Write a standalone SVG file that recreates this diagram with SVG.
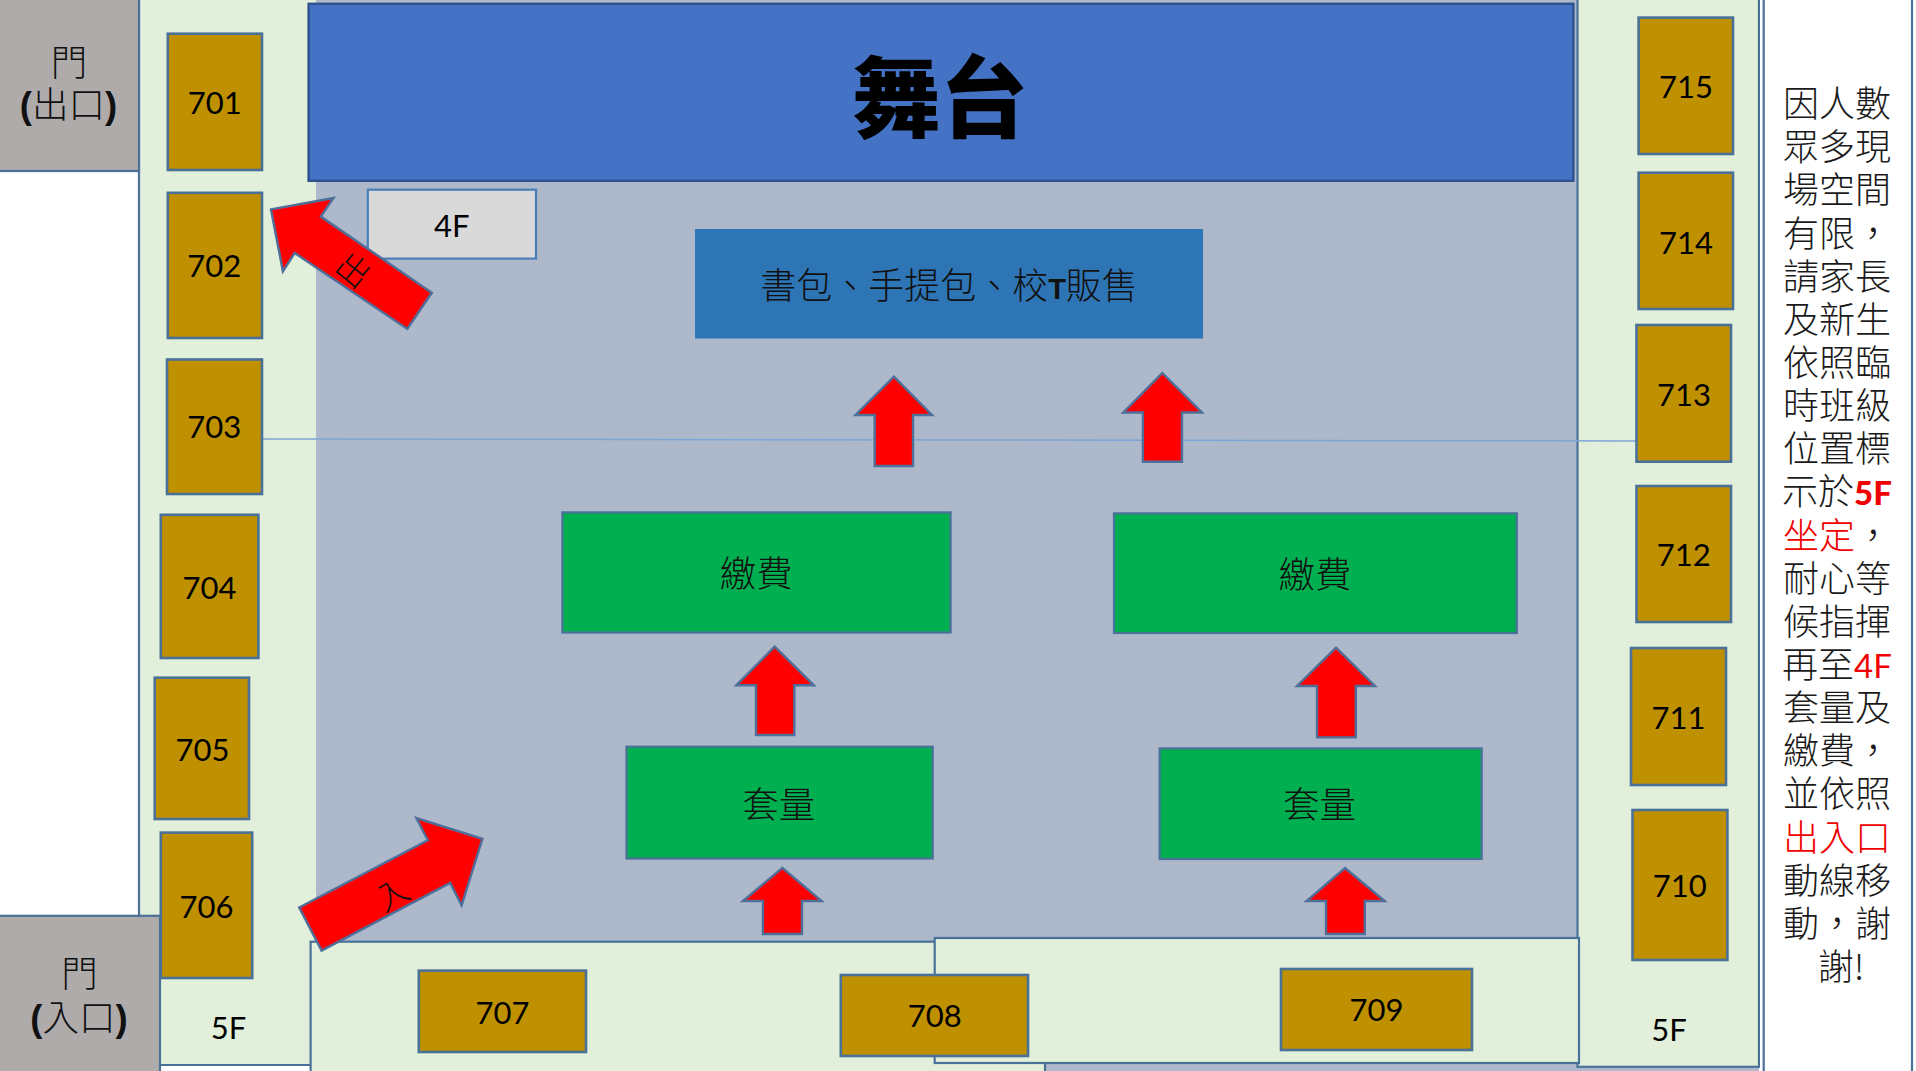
<svg xmlns="http://www.w3.org/2000/svg" width="1916" height="1071" viewBox="0 0 1916 1071" lang="zh-TW">
<style>
text{font-family:"Noto Sans CJK TC","Noto Sans",sans-serif;text-anchor:middle;fill:#111;font-weight:300}
.num{font-family:Lato,"Noto Sans",sans-serif;font-size:31px;font-weight:400;fill:#000}
.cjk{font-size:36.500px}
.side{font-size:36px;fill:#1a1a1a}
.red{fill:#f00000}
.lat{font-family:Lato,sans-serif;font-weight:400}
.par{font-family:"Liberation Sans",sans-serif;font-weight:700}
.b{stroke:#4a7198;stroke-width:2.200}
.room{fill:#bf9000;stroke:#4a7198;stroke-width:2.600}
.green{fill:#00b050;stroke:#4a7198;stroke-width:2.200}
.strip{fill:#e2efda;stroke:#4a7198;stroke-width:2.200}
.door{fill:#afabab;stroke:#4a7198;stroke-width:2.200}
.arrow{fill:#ff0000;stroke:#4f6f9b;stroke-width:2.400;stroke-linejoin:miter}
</style>
<rect width="1916" height="1071" fill="#fff"/>
<g id="floor">
<rect x="316" y="0" width="1443" height="1071" fill="#adb9ca"/>
<rect id="left-strip" x="139" y="-4" width="177" height="1069" fill="#e2efda"/>
<path d="M139 0V1065H320" fill="none" class="b"/>
<rect id="right-strip" class="strip" x="1577.500" y="-4" width="181.500" height="1070.800"/>
<rect x="1760.200" y="0" width="156" height="1071" fill="#fff"/>
<path d="M1763.700 0V1071M1912 0V1071" fill="none" class="b"/>
</g>
<g id="connectors">
<path d="M262 439L1636.500 441" fill="none" stroke="#7ba6d6" stroke-width="1.500"/>
</g>
<g id="door-exit"><rect class="door" x="-4" y="-4" width="143" height="175"/><text class="cjk"><tspan x="69" y="76">門</tspan><tspan x="68.500" y="118"><tspan class="par">(</tspan>出口<tspan class="par">)</tspan></tspan></text></g>
<g id="stage"><rect x="308.600" y="3.800" width="1264.800" height="177" fill="#4472c4" stroke="#2f528f" stroke-width="2.400"/><text x="940" y="130" style="font-size:88px;font-weight:900;fill:#000">舞台</text></g>
<g id="room-701"><rect class="room" x="167.800" y="33.700" width="94.200" height="136.300"/><text class="num" x="214.700" y="113.800">701</text></g>
<g id="room-702"><rect class="room" x="167.800" y="192.800" width="94.200" height="145.200"/><text class="num" x="214.300" y="277.200">702</text></g>
<g id="room-703"><rect class="room" x="167" y="359.500" width="95" height="134.500"/><text class="num" x="214.300" y="438.200">703</text></g>
<g id="room-704"><rect class="room" x="160.800" y="514.800" width="97.600" height="143.200"/><text class="num" x="209.400" y="598.800">704</text></g>
<g id="room-705"><rect class="room" x="154.700" y="677.700" width="94.300" height="141.300"/><text class="num" x="202.400" y="760.700">705</text></g>
<g id="room-706"><rect class="room" x="160.800" y="832.600" width="91.400" height="145.400"/><text class="num" x="206.500" y="917.700">706</text></g>
<g id="door-entry"><rect class="door" x="-4" y="915.800" width="164" height="159"/><text class="cjk"><tspan x="79.500" y="987">門</tspan><tspan x="79" y="1031"><tspan class="par">(</tspan>入口<tspan class="par">)</tspan></tspan></text></g>
<g id="label-5f-left"><text class="num" x="228.600" y="1039">5F</text></g>
<g id="strip-south-a"><rect class="strip" x="310.600" y="941.700" width="734.400" height="133"/></g>
<g id="strip-south-b"><rect class="strip" x="934.700" y="938" width="644.300" height="125"/></g>
<g id="room-707"><rect class="room" x="418.800" y="970.600" width="167.200" height="81.400"/><text class="num" x="502.400" y="1023.600">707</text></g>
<g id="room-708"><rect class="room" x="840.800" y="975" width="187.200" height="81"/><text class="num" x="934.700" y="1027.200">708</text></g>
<g id="room-709"><rect class="room" x="1281" y="969" width="191" height="81"/><text class="num" x="1376.600" y="1020.800">709</text></g>
<g id="room-710"><rect class="room" x="1632.500" y="810" width="94.900" height="150"/><text class="num" x="1679.700" y="896.600">710</text></g>
<g id="room-711"><rect class="room" x="1631" y="648" width="95" height="137"/><text class="num" x="1678.500" y="728.600">711</text></g>
<g id="room-712"><rect class="room" x="1636.500" y="486" width="94.500" height="136"/><text class="num" x="1683.800" y="566.200">712</text></g>
<g id="room-713"><rect class="room" x="1636.500" y="325" width="94.500" height="136.700"/><text class="num" x="1684" y="406">713</text></g>
<g id="room-714"><rect class="room" x="1638.600" y="172.700" width="94.400" height="136.300"/><text class="num" x="1685.900" y="253.600">714</text></g>
<g id="room-715"><rect class="room" x="1638.600" y="17.600" width="94.400" height="136.400"/><text class="num" x="1685.900" y="97.700">715</text></g>
<g id="label-5f-right"><text class="num" x="1669" y="1041">5F</text></g>
<g id="label-4f"><rect x="367.800" y="189.700" width="168.200" height="68.900" fill="#d9d9d9" stroke="#4a7eb8" stroke-width="2.200"/><text class="num" x="451.800" y="236.700">4F</text></g>
<g id="vendor"><rect x="695" y="229" width="508" height="109.500" fill="#2e75b6"/><text x="949" y="299" style="font-size:36px">書包、手提包、校<tspan class="par" style="font-size:29px">T</tspan>販售</text></g>
<g id="pay-left"><rect class="green" x="562.400" y="512.400" width="388.200" height="120.100"/><text class="cjk" x="756.300" y="587.300">繳費</text></g>
<g id="pay-right"><rect class="green" x="1114" y="513.400" width="402.800" height="119.600"/><text class="cjk" x="1315" y="588.300">繳費</text></g>
<g id="fit-left"><rect class="green" x="626.500" y="746.700" width="306.200" height="111.800"/><text class="cjk" x="778.800" y="817.600">套量</text></g>
<g id="fit-right"><rect class="green" x="1159.600" y="748.400" width="322.100" height="110.600"/><text class="cjk" x="1319.500" y="818.300">套量</text></g>
<g id="arrow-up-1"><polygon class="arrow" points="893.900,376.700 932,415 913,415 913,466 874.700,466 874.700,415 855.500,415"/></g>
<g id="arrow-up-2"><polygon class="arrow" points="1162.400,373 1202,412.500 1182,412.500 1182,461.800 1142.900,461.800 1142.900,412.500 1123.300,412.500"/></g>
<g id="arrow-up-3"><polygon class="arrow" points="774.700,646.600 813.900,685.300 794.300,685.300 794.300,735 756,735 756,685.300 736.300,685.300"/></g>
<g id="arrow-up-4"><polygon class="arrow" points="782.400,867.800 821.600,901 802,901 802,934 762.900,934 762.900,901 742.900,901"/></g>
<g id="arrow-up-5"><polygon class="arrow" points="1336,647.700 1375,686 1355.800,686 1355.800,737.400 1317,737.400 1317,686 1297,686"/></g>
<g id="arrow-up-6"><polygon class="arrow" points="1345,868 1384.700,901 1364.800,901 1364.800,934 1326,934 1326,901 1306.500,901"/></g>
<g id="arrow-exit"><polygon class="arrow" points="271,209.400 333.500,198 320.800,216.600 431.800,292.700 407.300,328.900 294.700,253 282.900,271.300"/><text x="0" y="12" transform="translate(353 270.300) rotate(39)" style="font-size:33px">出</text></g>
<g id="arrow-entry"><polygon class="arrow" points="299.200,907.500 427.800,840.200 416.300,818 482.400,838.800 461.600,905.400 450.200,883 321.600,950.600"/><text x="0" y="12" transform="translate(392 894) rotate(-30)" style="font-size:32px">入</text></g>
<g id="notice">
<text class="side">
<tspan x="1841" y="117">因人數</tspan>
<tspan x="1841" y="160.200">眾多現</tspan>
<tspan x="1841" y="203.300">場空間</tspan>
<tspan x="1841" y="246.500">有限，</tspan>
<tspan x="1841" y="289.600">請家長</tspan>
<tspan x="1841" y="332.800">及新生</tspan>
<tspan x="1841" y="375.900">依照臨</tspan>
<tspan x="1841" y="419.100">時班級</tspan>
<tspan x="1841" y="462.200">位置標</tspan>
<tspan x="1841" y="505.400">示於<tspan class="red lat" style="font-weight:900;font-size:33px">5F</tspan></tspan>
<tspan x="1841" y="548.500"><tspan class="red">坐定</tspan>，</tspan>
<tspan x="1841" y="591.700">耐心等</tspan>
<tspan x="1841" y="634.800">候指揮</tspan>
<tspan x="1841" y="678">再至<tspan class="red lat" style="font-size:33px">4F</tspan></tspan>
<tspan x="1841" y="721.100">套量及</tspan>
<tspan x="1841" y="764.300">繳費，</tspan>
<tspan x="1841" y="807.400">並依照</tspan>
<tspan x="1841" y="850.600" class="red">出入口</tspan>
<tspan x="1841" y="893.700">動線移</tspan>
<tspan x="1841" y="936.900">動，謝</tspan>
<tspan x="1841" y="980">謝!</tspan>
</text>
</g>
</svg>
